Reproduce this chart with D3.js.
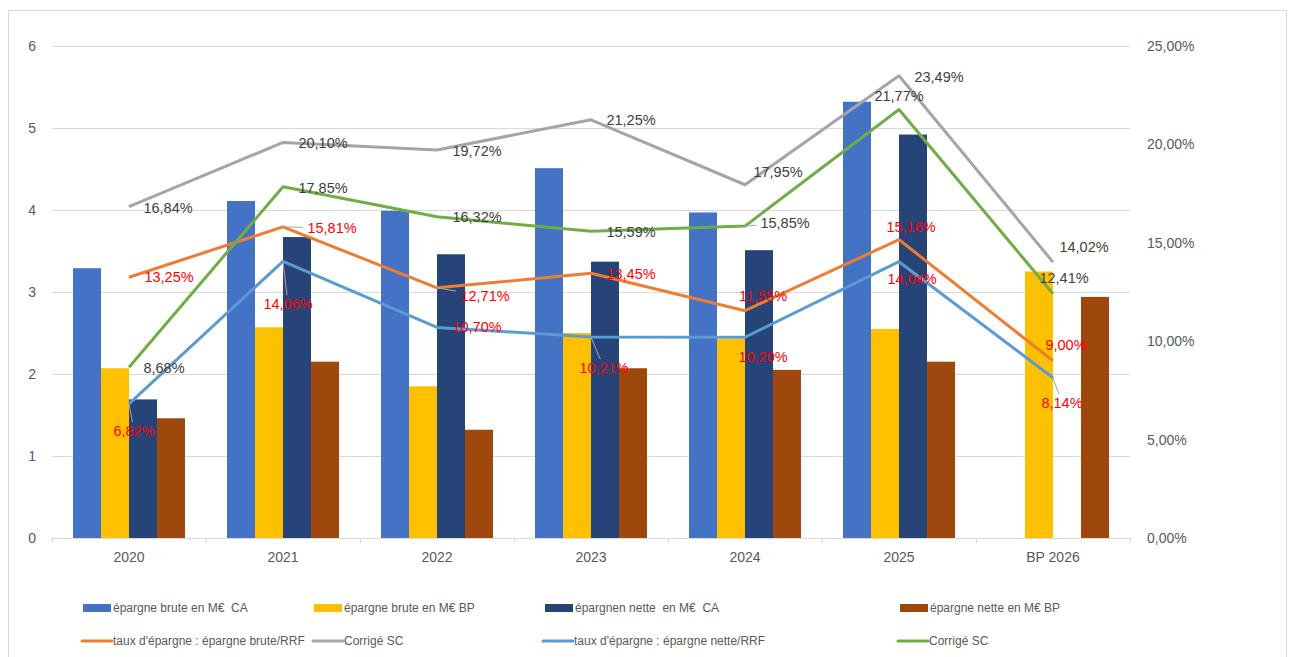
<!DOCTYPE html>
<html>
<head>
<meta charset="utf-8">
<script src="https://cdn.jsdelivr.net/npm/d3@7"></script>
<style>
  body { margin: 0; background: #fff; }
  text { font-family: "Liberation Sans", Arial, sans-serif; }
</style>
</head>
<body>
<div id="myChart"></div>
<script>
// Data
const categories = ["2020", "2021", "2022", "2023", "2024", "2025", "BP 2026"];
const brutCA = [3.29, 4.11, 3.99, 4.51, 3.97, 5.32, null];
const brutBP = [2.07, 2.57, 1.85, 2.5, 2.43, 2.55, 3.25];
const netCA = [1.69, 3.67, 3.46, 3.37, 3.51, 4.92, null];
const netBP = [1.46, 2.15, 1.32, 2.07, 2.05, 2.15, 2.94];
const tauxBrut = [13.25, 15.81, 12.71, 13.45, 11.55, 15.16, 9.0];
const corrigeBrut = [16.84, 20.1, 19.72, 21.25, 17.95, 23.49, 14.02];
const tauxNet = [6.82, 14.06, 10.7, 10.21, 10.2, 14.04, 8.14];
const corrigeNet = [8.68, 17.85, 16.32, 15.59, 15.85, 21.77, 12.41];
const leftTicks = [0, 1, 2, 3, 4, 5, 6];
const rightTicks = [0, 5, 10, 15, 20, 25];

// label placement relative to the point: [dx, dy, leader]
const offBrut = [[40, 0, 0], [49, 1, 1], [48, 8, 1], [40, 1, 0], [18, -15, 0], [12, -13, 0], [13, -16, 0]];
const offCorrBrut = [[39, 1, 0], [40, 0, 0], [40, 1, 0], [40, 0, 0], [33, -13, 0], [40, 1, 0], [31, -15, 0]];
const offNet = [[5, 27, 1], [5, 43, 1], [40, 0, 0], [13, 31, 1], [18, 20, 0], [13, 17, 0], [9, 25, 1]];
const offCorrNet = [[35, 1, 0], [40, 1, 0], [40, 0, 0], [40, 1, 0], [40, -3, 1], [0, -14, 0], [11, -16, 0]];

let margin = { top: 46, left: 52 },
  width = 1078,
  height = 492;

let root = d3
  .select("#myChart")
  .append("svg")
  .attr("width", 1289)
  .attr("height", 657);

// chart frame
root
  .append("rect")
  .attr("x", 8.5)
  .attr("y", 10.5)
  .attr("width", 1278)
  .attr("height", 660)
  .attr("fill", "none")
  .attr("stroke", "#d9d9d9");

let svg = root.append("g").attr("transform", `translate(${margin.left},${margin.top})`);

let x0 = d3.scaleBand().domain(categories).range([0, width]).padding(0);
let barKeys = ["brutCA", "brutBP", "netCA", "netBP"];
let x1 = d3.scaleBand().domain(barKeys).range([0, x0.bandwidth()]).paddingInner(0).paddingOuter(0.75);
let y = d3.scaleLinear().domain([0, 6]).range([height, 0]);
let y2 = d3.scaleLinear().domain([0, 25]).range([height, 0]);

// gridlines
svg
  .append("g")
  .selectAll("line")
  .data(leftTicks.slice(1))
  .enter()
  .append("line")
  .attr("x1", 0)
  .attr("x2", width)
  .attr("y1", (d) => Math.round(y(d)) + 0.5)
  .attr("y2", (d) => Math.round(y(d)) + 0.5)
  .attr("stroke", "#d9d9d9");

// left axis labels
svg
  .append("g")
  .selectAll("text")
  .data(leftTicks)
  .enter()
  .append("text")
  .attr("x", -16)
  .attr("y", (d) => y(d))
  .attr("dy", "0.35em")
  .attr("text-anchor", "end")
  .style("font-size", "14px")
  .style("fill", "#595959")
  .text((d) => d);

// right axis labels
let pct = (v) => d3.format(".2f")(v).replace(".", ",") + "%";
svg
  .append("g")
  .selectAll("text")
  .data(rightTicks)
  .enter()
  .append("text")
  .attr("x", width + 17)
  .attr("y", (d) => y2(d))
  .attr("dy", "0.35em")
  .style("font-size", "14px")
  .style("fill", "#595959")
  .text((d) => pct(d));

// bars
let barSeries = [
  { key: "brutCA", values: brutCA, color: "#4472c4" },
  { key: "brutBP", values: brutBP, color: "#ffc000" },
  { key: "netCA", values: netCA, color: "#264478" },
  { key: "netBP", values: netBP, color: "#9e480e" },
];
barSeries.forEach((s) => {
  svg
    .append("g")
    .selectAll("rect")
    .data(s.values.map((v, i) => ({ cat: categories[i], v: v })).filter((d) => d.v != null))
    .enter()
    .append("rect")
    .attr("x", (d) => x0(d.cat) + x1(s.key))
    .attr("y", (d) => y(d.v))
    .attr("width", x1.bandwidth())
    .attr("height", (d) => y(0) - y(d.v))
    .attr("fill", s.color);
});

// x axis line with ticks at category boundaries
let xAxis = svg.append("g").attr("transform", `translate(0,${height})`);
xAxis
  .append("line")
  .attr("x1", 0)
  .attr("x2", width)
  .attr("y1", 0.5)
  .attr("y2", 0.5)
  .attr("stroke", "#d9d9d9");
xAxis
  .selectAll(".tk")
  .data(categories.map((c) => x0(c)).concat([width]))
  .enter()
  .append("line")
  .attr("x1", (d) => Math.round(d) + 0.5)
  .attr("x2", (d) => Math.round(d) + 0.5)
  .attr("y1", 0)
  .attr("y2", 5)
  .attr("stroke", "#d9d9d9");
xAxis
  .selectAll("text")
  .data(categories)
  .enter()
  .append("text")
  .attr("x", (d) => x0(d) + x0.bandwidth() / 2)
  .attr("y", 24)
  .attr("text-anchor", "middle")
  .style("font-size", "14px")
  .style("fill", "#595959")
  .text((d) => d);

// lines
let lineSeries = [
  { values: tauxBrut, color: "#ed7d31", off: offBrut, labelColor: "#ff0000" },
  { values: corrigeBrut, color: "#a5a5a5", off: offCorrBrut, labelColor: "#404040" },
  { values: tauxNet, color: "#5b9bd5", off: offNet, labelColor: "#ff0000" },
  { values: corrigeNet, color: "#70ad47", off: offCorrNet, labelColor: "#404040" },
];
let cx = (i) => x0(categories[i]) + x0.bandwidth() / 2;
let line = d3
  .line()
  .x((d, i) => cx(i))
  .y((d) => y2(d));

lineSeries.forEach((s) => {
  svg
    .append("path")
    .attr("d", line(s.values))
    .attr("fill", "none")
    .attr("stroke", s.color)
    .attr("stroke-width", 3)
    .attr("stroke-linejoin", "round");
});

// data labels with leader lines
let labelLayer = svg.append("g");
lineSeries.forEach((s) => {
  s.values.forEach((v, i) => {
    let px = cx(i),
      py = y2(v),
      o = s.off[i];
    let t = labelLayer
      .append("text")
      .attr("x", px + o[0])
      .attr("y", py + o[1])
      .attr("dy", "0.35em")
      .attr("text-anchor", "middle")
      .style("font-size", "14.5px")
      .style("fill", s.labelColor)
      .text(pct(v));
    if (o[2]) {
      let b = t.node().getBBox();
      let pad = 4;
      let lx = px + o[0],
        ly = py + o[1];
      let dx = lx - px,
        dy = ly - py;
      // distance along the line to the padded box edge
      let tx = dx !== 0 ? (Math.abs(dx) - b.width / 2 - pad) / Math.abs(dx) : Infinity;
      let ty = dy !== 0 ? (Math.abs(dy) - b.height / 2 - pad + 3) / Math.abs(dy) : Infinity;
      let tt = Math.max(0, Math.min(tx < 0 ? Infinity : tx, ty < 0 ? Infinity : ty, 1));
      if (!isFinite(tt)) tt = 0.6;
      labelLayer
        .insert("line", ":first-child")
        .attr("x1", px)
        .attr("y1", py)
        .attr("x2", px + dx * tt)
        .attr("y2", py + dy * tt)
        .attr("stroke", "#a6a6a6")
        .attr("stroke-width", 1);
    }
  });
});

// legend
let legendItems = [
  { name: "épargne brute en M€  CA", color: "#4472c4", type: "bar", x: 83, row: 0 },
  { name: "épargne brute en M€ BP", color: "#ffc000", type: "bar", x: 314, row: 0 },
  { name: "épargnen nette  en M€  CA", color: "#264478", type: "bar", x: 545, row: 0 },
  { name: "épargne nette en M€ BP", color: "#9e480e", type: "bar", x: 900, row: 0 },
  { name: "taux d'épargne : épargne brute/RRF", color: "#ed7d31", type: "line", x: 82, row: 1 },
  { name: "Corrigé SC", color: "#a5a5a5", type: "line", x: 313, row: 1 },
  { name: "taux d'épargne : épargne nette/RRF", color: "#5b9bd5", type: "line", x: 543, row: 1 },
  { name: "Corrigé SC", color: "#70ad47", type: "line", x: 898, row: 1 },
];
let legend = root
  .selectAll(".legend")
  .data(legendItems)
  .enter()
  .append("g")
  .attr("class", "legend")
  .attr("transform", (d) => `translate(${d.x},${d.row === 0 ? 608 : 641})`);

legend
  .filter((d) => d.type === "bar")
  .append("rect")
  .attr("x", 0)
  .attr("y", -4)
  .attr("width", 28)
  .attr("height", 8)
  .attr("fill", (d) => d.color);

legend
  .filter((d) => d.type === "line")
  .append("line")
  .attr("x1", 0)
  .attr("x2", 30)
  .attr("y1", 0)
  .attr("y2", 0)
  .attr("stroke", (d) => d.color)
  .attr("stroke-width", 3)
  .attr("stroke-linecap", "round");

legend
  .append("text")
  .attr("x", (d) => (d.type === "bar" ? 30 : 31))
  .attr("y", 0)
  .attr("dy", "0.35em")
  .style("font-size", "12px")
  .style("fill", "#595959")
  .style("white-space", "pre")
  .text((d) => d.name);
</script>
</body>
</html>
